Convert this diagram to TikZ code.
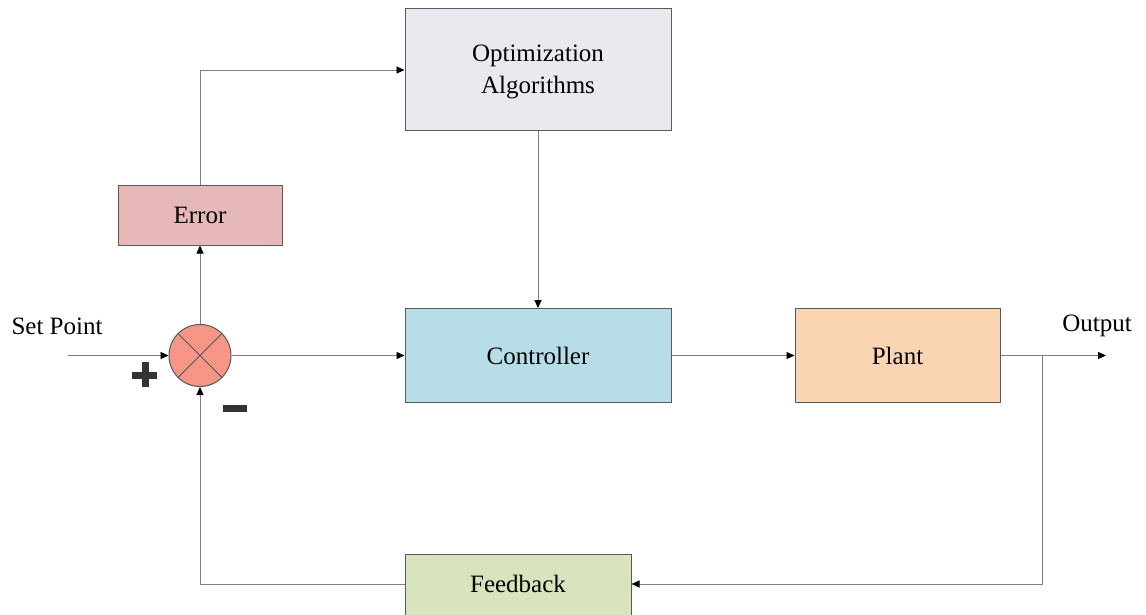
\documentclass[tikz,border=0pt]{standalone}
\usepackage{fontspec}
\setmainfont{Liberation Serif}
\usetikzlibrary{arrows.meta}
\definecolor{optfill}{HTML}{EBE8F0}
\definecolor{errfill}{HTML}{E6B9B8}
\definecolor{ctrlfill}{HTML}{B7DEE8}
\definecolor{plantfill}{HTML}{FCD5B5}
\definecolor{fbfill}{HTML}{D7E4BD}
\definecolor{sumfill}{HTML}{F79686}
\definecolor{wire}{HTML}{7F7F7F}
\definecolor{edge}{HTML}{595959}
\definecolor{signcol}{HTML}{333333}
\tikzset{
  block/.style={draw=edge, line width=1pt, minimum width=#1, inner sep=0pt,
    font=\fontsize{25}{32}\selectfont, align=center},
  conn/.style={draw=wire, line width=0.9pt,
    -{Triangle[length=8pt,width=7pt,color=black]}},
  lbl/.style={font=\fontsize{25}{32}\selectfont, inner sep=0pt, align=center},
  signbar/.style={fill=signcol, draw=none}
}
\begin{document}
\begin{tikzpicture}[x=1pt,y=-1pt]
\useasboundingbox (0,0) rectangle (1146,614);
% blocks
\node[block=266pt, minimum height=122pt, fill=optfill] (opt) at (538,69) {};
\node[lbl] (opttext) at (538,71.5) {Optimization\\Algorithms};
\node[block=164pt, minimum height=60pt, fill=errfill] (err) at (200,215) {Error};
\node[block=266pt, minimum height=94pt, fill=ctrlfill] (ctrl) at (538,355.5) {Controller};
\node[block=205pt, minimum height=94pt, fill=plantfill] (plant) at (897.5,355.5) {Plant};
\node[block=226pt, minimum height=66pt, fill=fbfill, anchor=north] (fb) at (518,554) {};
\node[lbl] (fbtext) at (518,584) {Feedback};
% summing junction
\node[circle, draw=edge, line width=1pt, fill=sumfill, minimum size=62pt, inner sep=0pt] (sum) at (200,355.5) {};
\draw[edge, line width=0.9pt] (sum.north west) -- (sum.south east) (sum.north east) -- (sum.south west);
% labels
\node[lbl] (sp) at (57,326) {Set Point};
\node[lbl] (outl) at (1097,326) {Output};
% plus and minus signs
\fill[signbar] (132,371.5) rectangle (157,378.5);
\fill[signbar] (141.5,362) rectangle (148.5,387);
\fill[signbar] (223,405) rectangle (247,411.5);
% free ends
\coordinate (in) at (68,355.5);
\coordinate (out) at (1106,355.5);
\coordinate (tap) at (1042,355.5);
% connectors
\draw[conn] (in) -- (sum.west);
\draw[conn] (sum.east) -- (ctrl.west);
\draw[conn] (sum.north) -- (err.south);
\draw[conn] (err.north) |- (opt.west |- 0,70);
\draw[conn] (opt.south) -- (ctrl.north);
\draw[conn] (ctrl.east) -- (plant.west);
\draw[conn] (plant.east) -- (out);
\draw[conn] (tap) |- (fb.east |- 0,584);
\draw[conn] (fb.west |- 0,584) -| (sum.south);
\end{tikzpicture}
\end{document}
